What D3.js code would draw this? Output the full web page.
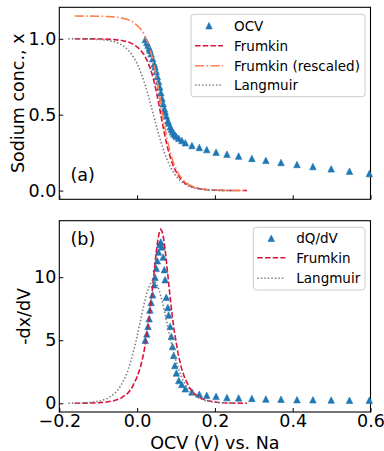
<!DOCTYPE html>
<html lang="en">
	<head>
		<meta charset="utf-8">
		<title>ocv frumkin langmuir</title>
		<script type="text/javascript" src="https://d3js.org/d3.v7.min.js"></script>
		<style type="text/css">
            body{
                margin:0;
                padding:0;
                background:white;
            }
            svg text{
                font-family:"DejaVu Sans",sans-serif;
                fill:black;
            }
		</style>
	</head>
	<body>
        <div id="chart"></div>
		<script type="text/javascript">
            // measured ocv points (V vs Na), sodium conc. and -dx/dV
            var ocvV = [0.021,0.025,0.028,0.031,0.033,0.036,0.040,0.044,0.046,0.049,0.052,0.055,0.058,0.061,0.064,0.067,0.070,0.072,0.075,0.079,0.081,0.085,0.088,0.091,0.094,0.097,0.101,0.107,0.115,0.124,0.141,0.160,0.179,0.203,0.231,0.261,0.295,0.331,0.370,0.411,0.452,0.499,0.546,0.597]
            var ocvX = [0.995,0.975,0.958,0.939,0.925,0.902,0.869,0.834,0.815,0.785,0.752,0.718,0.682,0.645,0.607,0.572,0.539,0.519,0.492,0.460,0.446,0.420,0.404,0.389,0.377,0.367,0.356,0.344,0.330,0.315,0.297,0.284,0.270,0.253,0.240,0.227,0.212,0.199,0.185,0.172,0.158,0.143,0.128,0.112]
            var dqdv = [5.0,5.5,6.1,6.7,7.4,8.0,8.6,9.4,10.0,10.7,11.3,12.0,12.6,12.8,12.4,11.6,10.6,9.8,8.4,7.6,7.0,6.1,5.3,4.5,3.8,3.0,2.4,1.8,1.5,1.15,0.9,0.72,0.63,0.55,0.45,0.43,0.39,0.34,0.32,0.29,0.28,0.26,0.24,0.24]

            // frumkin fit
            var frumV = [-0.1606,-0.1192,-0.1014,-0.0836,-0.0600,-0.0422,-0.0245,-0.0141,-0.0020,0.0076,0.0167,0.0270,0.0345,0.0404,0.0453,0.0496,0.0536,0.0574,0.0610,0.0646,0.0684,0.0724,0.0767,0.0817,0.0875,0.0950,0.1054,0.1145,0.1230,0.1361,0.1465,0.1642,0.1820,0.2056,0.2234,0.2412,0.2826]
            var frumX = [0.9999,0.9995,0.999,0.998,0.995,0.99,0.98,0.97,0.95,0.93,0.9,0.85,0.8,0.75,0.7,0.65,0.6,0.55,0.5,0.45,0.4,0.35,0.3,0.25,0.2,0.15,0.1,0.07,0.05,0.03,0.02,0.01,0.005,0.002,0.001,0.0005,0.0001]
            var frumRescaled = [1.1499,1.1494,1.1489,1.1477,1.1443,1.1385,1.127,1.1155,1.0925,1.0695,1.035,0.9775,0.92,0.8625,0.805,0.7475,0.69,0.6325,0.575,0.5175,0.46,0.4025,0.345,0.2875,0.23,0.1725,0.115,0.0805,0.0575,0.0345,0.023,0.0115,0.0058,0.0023,0.0012,0.0006,0.0001]
            var frumDxdV = [0.0039,0.0195,0.0389,0.0777,0.1947,0.3898,0.7807,1.1725,1.958,2.744,3.918,5.839,7.673,9.366,10.86,12.10,13.02,13.60,13.79,13.60,13.02,12.10,10.86,9.366,7.673,5.839,3.918,2.744,1.958,1.1725,0.7807,0.3898,0.1947,0.0777,0.0389,0.0195,0.0039]

            // langmuir fit
            var langV = [-0.1769,-0.1355,-0.1177,-0.0940,-0.0761,-0.0580,-0.0473,-0.0337,-0.0245,-0.0145,-0.0026,0.0064,0.0138,0.0202,0.0261,0.0316,0.0368,0.0420,0.0472,0.0524,0.0579,0.0638,0.0702,0.0776,0.0866,0.0985,0.1085,0.1177,0.1313,0.1420,0.1601,0.1780,0.2017,0.2195,0.2505]
            var langX = [0.9998,0.999,0.998,0.995,0.99,0.98,0.97,0.95,0.93,0.9,0.85,0.8,0.75,0.7,0.65,0.6,0.55,0.5,0.45,0.4,0.35,0.3,0.25,0.2,0.15,0.1,0.07,0.05,0.03,0.02,0.01,0.005,0.002,0.001,0.0003]
            var langDxdV = [0.0078,0.0389,0.0777,0.1936,0.3852,0.7627,1.1323,1.8482,2.5331,3.5019,4.9611,6.2257,7.2957,8.1712,8.8521,9.3385,9.6304,9.7276,9.6304,9.3385,8.8521,8.1712,7.2957,6.2257,4.9611,3.5019,2.5331,1.8482,1.1323,0.7627,0.3852,0.1936,0.0777,0.0389,0.0117]

            var xTicks = [-0.2,0,0.2,0.4,0.6]
            var topTicks = [0,0.5,1.0]
            var bottomTicks = [0,5,10]

            var width = 384
            var height = 451
            var blue = "#1f77b4"

            var svg = d3.select("#chart").append("svg")
                .attr("width",width).attr("height",height)

            var x = d3.scaleLinear().domain([-0.2,0.6]).range([59.3,370.5])
            var yTop = d3.scaleLinear().domain([-0.0575,1.2075]).range([199.3,7.3])
            var yBot = d3.scaleLinear().domain([-0.69,14.48]).range([412,220.7])

            function fmt(d){
                return d3.format(".1f")(d).replace("-","\u2212")
            }

            function drawAxes(y,yt,yfmt,showX){
                var g = svg.append("g")
                g.append("g").attr("transform","translate(0,"+y.range()[0]+")")
                    .call(d3.axisBottom(x).tickValues(xTicks).tickSizeInner(-4).tickSizeOuter(0)
                        .tickPadding(2.5).tickFormat(showX ? fmt : ""))
                g.append("g").attr("transform","translate("+x.range()[0]+",0)")
                    .call(d3.axisLeft(y).tickValues(yt).tickSizeInner(-4).tickSizeOuter(0)
                        .tickPadding(3).tickFormat(yfmt))
                g.selectAll(".domain").remove()
                g.selectAll(".tick line").attr("stroke","black").attr("stroke-width",1)
                g.selectAll(".tick text").style("font-size","17.5px").attr("fill","black")
                g.append("rect")
                    .attr("x",x.range()[0]).attr("y",y.range()[1])
                    .attr("width",x.range()[1]-x.range()[0])
                    .attr("height",y.range()[0]-y.range()[1])
                    .attr("fill","none").attr("stroke","black").attr("stroke-width",1.1)
            }

            function tri(s){
                return "M0,"+(-s/2)+"L"+(s/2)+","+(s/2)+"L"+(-s/2)+","+(s/2)+"Z"
            }

            function drawPoints(y,vs,ys){
                svg.append("g").selectAll("path").data(vs).enter().append("path")
                    .attr("d",tri(6.5))
                    .attr("transform",function(d,i){ return "translate("+x(d)+","+y(ys[i])+")" })
                    .attr("fill",blue).attr("stroke",blue).attr("stroke-width",0.6)
            }

            function drawLine(y,vs,ys,color,dash){
                var line = d3.line().x(function(d){ return x(d) }).y(function(d,i){ return y(ys[i]) })
                svg.append("path").datum(vs)
                    .attr("d",line)
                    .attr("fill","none").attr("stroke",color).attr("stroke-width",1.6)
                    .attr("stroke-dasharray",dash)
            }

            function drawLegend(x0,y0,w,h,items){
                var g = svg.append("g").attr("transform","translate("+x0+","+y0+")")
                g.append("rect").attr("width",w).attr("height",h).attr("rx",3)
                    .attr("fill","white").attr("fill-opacity",0.8)
                    .attr("stroke","#cccccc").attr("stroke-width",1)
                items.forEach(function(it,i){
                    var cy = it.dy
                    if(it.type=="marker"){
                        g.append("path").attr("d",tri(6.5))
                            .attr("transform","translate(18,"+cy+")")
                            .attr("fill",blue).attr("stroke",blue).attr("stroke-width",0.6)
                    }else{
                        g.append("line").attr("x1",4).attr("x2",32).attr("y1",cy).attr("y2",cy)
                            .attr("stroke",it.color).attr("stroke-width",1.6)
                            .attr("stroke-dasharray",it.dash)
                    }
                    g.append("text").attr("x",43).attr("y",cy).attr("dy","0.36em")
                        .style("font-size","13.5px").text(it.label)
                })
            }

            var dashed = "5.5,2.2"
            var dashdot = "9,2.5,1.5,2.5"
            var dotted = "1.5,2"

            // panel (a)
            drawAxes(yTop,topTicks,function(d){ return d3.format(".1f")(d) },false)
            drawPoints(yTop,ocvV,ocvX)
            drawLine(yTop,frumV,frumX,"crimson",dashed)
            drawLine(yTop,frumV,frumRescaled,"coral",dashdot)
            drawLine(yTop,langV,langX,"gray",dotted)
            drawLegend(191,14.3,174,82.4,[
                {type:"marker",label:"OCV",dy:11.4},
                {type:"line",label:"Frumkin",color:"crimson",dash:dashed,dy:31.4},
                {type:"line",label:"Frumkin (rescaled)",color:"coral",dash:dashdot,dy:51.4},
                {type:"line",label:"Langmuir",color:"gray",dash:dotted,dy:70.7}
            ])
            svg.append("text").attr("x",70.5).attr("y",180.5).style("font-size","17.5px").text("(a)")
            svg.append("text")
                .attr("transform","translate(24,"+((7.3+199.3)/2)+") rotate(-90)")
                .attr("text-anchor","middle").style("font-size","17.5px").text("Sodium conc., x")

            // panel (b)
            drawAxes(yBot,bottomTicks,function(d){ return d },true)
            drawPoints(yBot,ocvV,dqdv)
            drawLine(yBot,frumV,frumDxdV,"crimson",dashed)
            drawLine(yBot,langV,langDxdV,"gray",dotted)
            drawLegend(253.3,227.3,111.7,62.7,[
                {type:"marker",label:"dQ/dV",dy:11},
                {type:"line",label:"Frumkin",color:"crimson",dash:dashed,dy:30.4},
                {type:"line",label:"Langmuir",color:"gray",dash:dotted,dy:51}
            ])
            svg.append("text").attr("x",70.5).attr("y",245).style("font-size","17.5px").text("(b)")
            svg.append("text")
                .attr("transform","translate(29.5,"+((220.7+412)/2)+") rotate(-90)")
                .attr("text-anchor","middle").style("font-size","17.5px").text("-dx/dV")
            svg.append("text").attr("x",(x.range()[0]+x.range()[1])/2).attr("y",448.5)
                .attr("text-anchor","middle").style("font-size","17.5px").text("OCV (V) vs. Na")
		</script>
	</body>
</html>
